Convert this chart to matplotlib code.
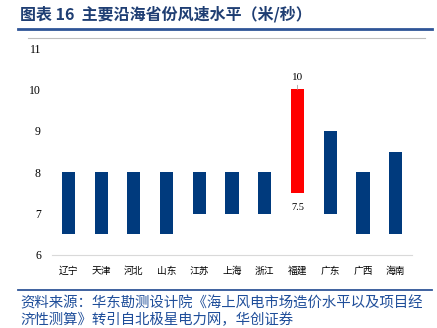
import matplotlib.pyplot as plt
from matplotlib.lines import Line2D

plt.rcParams["font.family"] = ["Liberation Serif", "Noto Sans CJK SC", "DejaVu Sans"]

provinces = ["辽宁", "天津", "河北", "山东", "江苏", "上海", "浙江", "福建", "广东", "广西", "海南"]
low = [6.5, 6.5, 6.5, 6.5, 7, 7, 7, 7.5, 7, 6.5, 6.5]
high = [8, 8, 8, 8, 8, 8, 8, 10, 9, 8, 8.5]
highlight = "福建"

NAVY = "#003A7D"
RED = "#FF0000"
TITLE_BLUE = "#1F3E73"

fig = plt.figure(figsize=(4.37, 3.28), dpi=100)
ax = fig.add_axes([0.119, 0.2226, 0.824, 0.631])

x = range(len(provinces))
heights = [h - l for h, l in zip(high, low)]
colors = [RED if p == highlight else NAVY for p in provinces]
ax.bar(x, heights, bottom=low, width=0.4, color=colors, zorder=3)

ax.set_xlim(-0.5, len(provinces) - 0.5)
ax.set_ylim(6, 11)
ax.set_yticks(range(6, 12))
ax.set_xticks(list(x), provinces, family=["Noto Sans CJK SC"], fontsize=7)
ax.tick_params(axis="both", length=0)
ax.tick_params(axis="y", pad=8, labelsize=8.5)
ax.tick_params(axis="x", pad=8)
for side in ["top", "right", "left"]:
    ax.spines[side].set_visible(False)
ax.spines["bottom"].set_color("#D9D9D9")

# labels on the highlighted bar
i = provinces.index(highlight)
ax.annotate(f"{high[i]:g}", (i, high[i]), xytext=(0, 5), textcoords="offset points",
            ha="center", va="bottom", fontsize=8,
            arrowprops={"arrowstyle": "-", "color": "#A6A6A6", "lw": 0.6, "shrinkA": 0, "shrinkB": 0})
ax.annotate(f"{low[i]:g}", (i, low[i]), xytext=(0, -7), textcoords="offset points",
            ha="center", va="top", fontsize=7.5)

# title block
fig.text(0.046, 0.957, "图表 16  主要沿海省份风速水平（米/秒）", family=["Noto Sans CJK SC"],
         fontsize=11.5, fontweight="bold", color=TITLE_BLUE, va="center", ha="left")
fig.add_artist(Line2D([0.041, 0.989], [0.913, 0.913], color="#2F5597", lw=2))
fig.add_artist(Line2D([0.064, 0.972], [0.884, 0.884], color="#BFBFBF", lw=0.8))

# source block
fig.add_artist(Line2D([0.041, 0.989], [0.116, 0.116], color="#2F5597", lw=1.3))
src = "资料来源：华东勘测设计院《海上风电市场造价水平以及项目经\n济性测算》转引自北极星电力网，华创证券"
fig.text(0.046, 0.05, src, family=["Noto Sans CJK SC"], fontsize=10.4, style="italic",
         color="#1F4E9A", va="center", ha="left", linespacing=1.2)

fig.savefig("out.png", dpi=100)
